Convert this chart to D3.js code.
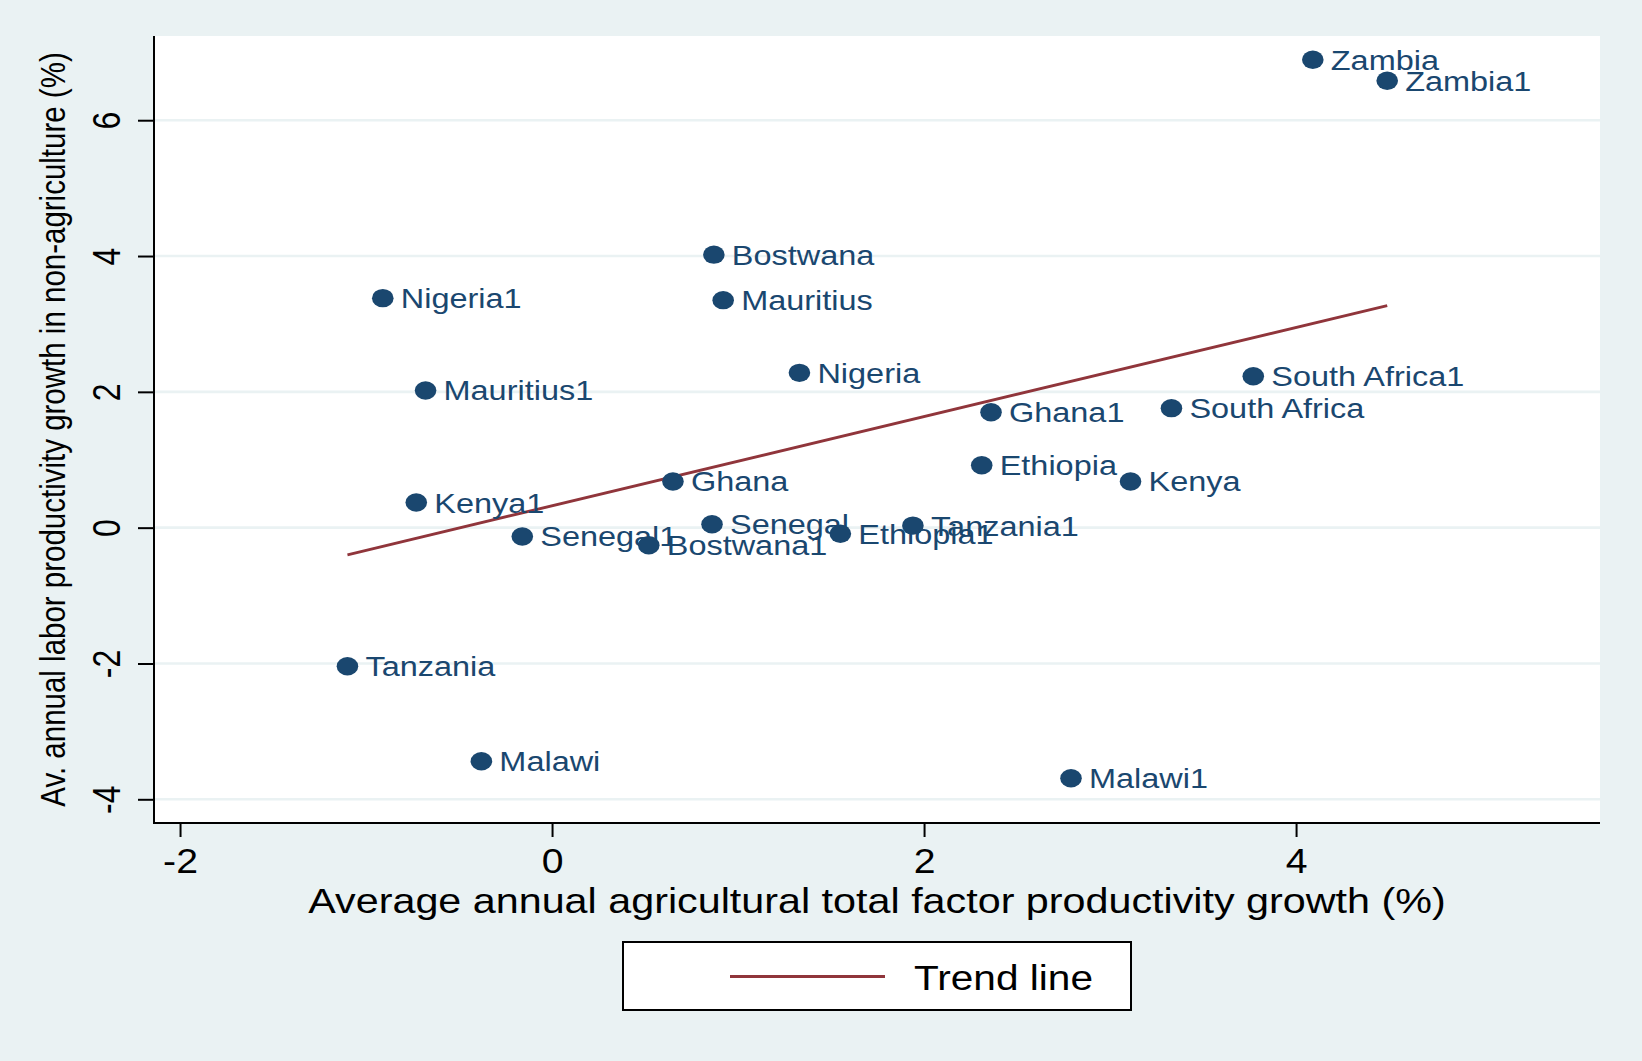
<!DOCTYPE html>
<html>
<head>
<meta charset="utf-8">
<script src="https://cdn.jsdelivr.net/npm/d3@7"></script>
<style>
  html, body { margin: 0; padding: 0; background: #eaf2f3; }
  svg { display: block; font-family: "Liberation Sans", Arial, Helvetica, sans-serif; }
</style>
</head>
<body>
<svg id="chart"></svg>
<script>
// values
var countries = ['Zambia', 'Zambia1', 'Bostwana', 'Mauritius', 'Nigeria1', 'Nigeria', 'Mauritius1',
  'South Africa1', 'South Africa', 'Ghana1', 'Ethiopia', 'Kenya', 'Ghana', 'Kenya1', 'Senegal',
  'Tanzania1', 'Ethiopia1', 'Senegal1', 'Bostwana1', 'Tanzania', 'Malawi', 'Malawi1'];
var tfpGrowth = [4.09, 4.49, 0.87, 0.92, -0.91, 1.33, -0.68,
  3.77, 3.33, 2.36, 2.31, 3.11, 0.65, -0.73, 0.86,
  1.94, 1.55, -0.16, 0.52, -1.10, -0.38, 2.79];
var laborGrowth = [6.89, 6.58, 4.02, 3.35, 3.38, 2.28, 2.02,
  2.23, 1.76, 1.70, 0.92, 0.68, 0.68, 0.37, 0.05,
  0.03, -0.09, -0.13, -0.26, -2.04, -3.44, -3.69];
var trendX = [-1.10, 4.49];
var trendY = [-0.40, 3.27];
var xTicks = [-2, 0, 2, 4];
var yTicks = [-4, -2, 0, 2, 4, 6];

var xTitle = 'Average annual agricultural total factor productivity growth (%)';
var yTitle = 'Av. annual labor productivity growth in non-agriculture (%)';
var legendLabel = 'Trend line';

(function(window, d3) {

	var w = 1642, h = 1061;
	var plot = { left: 154, right: 1600, top: 36, bottom: 823 };
	var navy = '#1a476f', maroon = '#90353b', bg = '#eaf2f3';

	var svg = d3.select('#chart').attr('width', w).attr('height', h);

	svg.append('rect').attr('width', w).attr('height', h).attr('fill', bg);
	svg.append('rect')
		.attr('x', plot.left).attr('y', plot.top)
		.attr('width', plot.right - plot.left).attr('height', plot.bottom - plot.top)
		.attr('fill', '#fff');

	var x = d3.scaleLinear().domain([-2.14, 5.634]).range([plot.left, plot.right]);
	var y = d3.scaleLinear().domain([-4.349, 7.24]).range([plot.bottom, plot.top]);

	// gridlines
	svg.append('g').selectAll('line')
		.data(yTicks)
		.enter().append('line')
			.attr('x1', plot.left).attr('x2', plot.right)
			.attr('y1', function(d) { return y(d); })
			.attr('y2', function(d) { return y(d); })
			.attr('stroke', bg).attr('stroke-width', 2.6);

	// y axis
	var yAxis = svg.append('g')
		.attr('transform', 'translate(' + plot.left + ',0)')
		.call(d3.axisLeft(y).tickValues(yTicks).tickSize(16).tickFormat(''));
	yAxis.select('.domain').remove();
	yAxis.selectAll('.tick line').attr('stroke', '#000').attr('stroke-width', 2);

	yAxis.selectAll('.tick').append('text')
		.attr('transform', 'translate(-34,0) scale(1.19,1) rotate(-90)')
		.attr('text-anchor', 'middle')
		.attr('fill', '#000')
		.style('font-size', '32px')
		.text(function(d) { return d; });

	// x axis
	var xAxis = svg.append('g')
		.attr('transform', 'translate(0,' + plot.bottom + ')')
		.call(d3.axisBottom(x).tickValues(xTicks).tickSize(14).tickFormat(''));
	xAxis.select('.domain').remove();
	xAxis.selectAll('.tick line').attr('stroke', '#000').attr('stroke-width', 2);

	xAxis.selectAll('.tick').append('text')
		.attr('transform', 'translate(0,50) scale(1.12,1)')
		.attr('text-anchor', 'middle')
		.attr('fill', '#000')
		.style('font-size', '35px')
		.text(function(d) { return d; });

	// axis lines
	svg.append('line')
		.attr('x1', plot.left).attr('x2', plot.left)
		.attr('y1', plot.top).attr('y2', plot.bottom + 1)
		.attr('stroke', '#000').attr('stroke-width', 2);
	svg.append('line')
		.attr('x1', plot.left - 1).attr('x2', plot.right)
		.attr('y1', plot.bottom).attr('y2', plot.bottom)
		.attr('stroke', '#000').attr('stroke-width', 2);

	// axis titles
	svg.append('text')
		.attr('transform', 'translate(' + ((plot.left + plot.right) / 2) + ',913) scale(1.18,1)')
		.attr('text-anchor', 'middle')
		.attr('fill', '#000')
		.style('font-size', '35px')
		.text(xTitle);

	svg.append('text')
		.attr('transform', 'translate(65,' + ((plot.top + plot.bottom) / 2) + ') scale(1.19,1) rotate(-90)')
		.attr('text-anchor', 'middle')
		.attr('fill', '#000')
		.style('font-size', '29.5px')
		.text(yTitle);

	// trend line
	var trend = trendX.map(function(d, i) { return [d, trendY[i]]; });
	svg.append('path')
		.datum(trend)
		.attr('d', d3.line()
			.x(function(d) { return x(d[0]); })
			.y(function(d) { return y(d[1]); }))
		.attr('fill', 'none')
		.attr('stroke', maroon)
		.attr('stroke-width', 2.9);

	// points and labels
	var points = countries.map(function(c, i) {
		return { name: c, tfp: tfpGrowth[i], labor: laborGrowth[i] };
	});

	var node = svg.append('g').selectAll('g')
		.data(points)
		.enter().append('g')
			.attr('transform', function(d) { return 'translate(' + x(d.tfp) + ',' + y(d.labor) + ')'; });

	node.append('ellipse')
		.attr('rx', 10.8).attr('ry', 9.2)
		.attr('fill', navy);

	node.append('text')
		.attr('transform', 'translate(18,10) scale(1.18,1)')
		.attr('fill', navy)
		.style('font-size', '27.5px')
		.text(function(d) { return d.name; });

	// legend
	var legend = svg.append('g');
	legend.append('rect')
		.attr('x', 623).attr('y', 942)
		.attr('width', 508).attr('height', 68)
		.attr('fill', '#fff').attr('stroke', '#000').attr('stroke-width', 2);
	legend.append('line')
		.attr('x1', 730).attr('x2', 885)
		.attr('y1', 976.5).attr('y2', 976.5)
		.attr('stroke', maroon).attr('stroke-width', 2.9);
	legend.append('text')
		.attr('transform', 'translate(914,990) scale(1.16,1)')
		.attr('fill', '#000')
		.style('font-size', '35px')
		.text(legendLabel);

})(window, d3);
</script>
</body>
</html>
